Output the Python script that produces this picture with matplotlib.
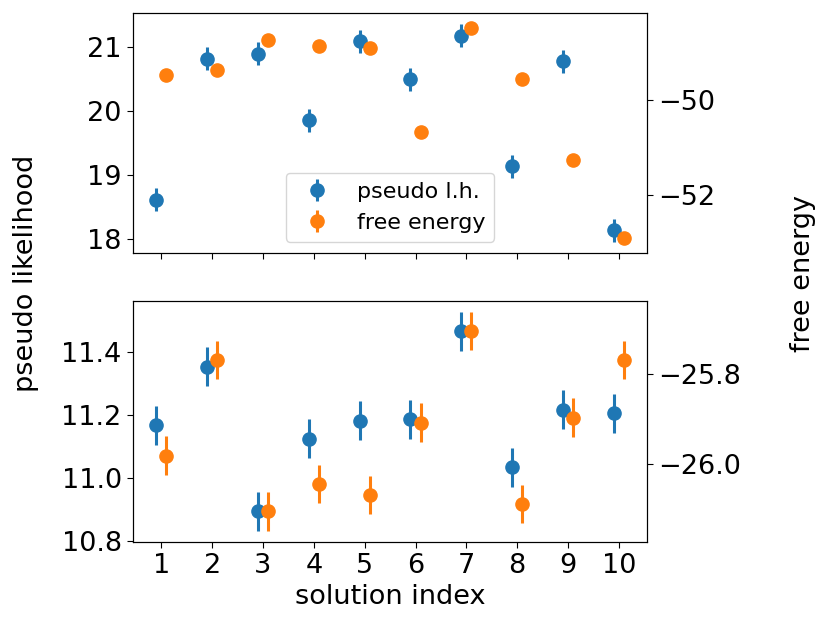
import numpy as np
import matplotlib
matplotlib.use("Agg")
import matplotlib.pyplot as plt

plt.rcParams['font.size'] = 19.5
plt.rcParams['xtick.major.size'] = 4.5
plt.rcParams['ytick.major.size'] = 4.5

idx = np.arange(1, 11)

# top panel
pl_top = [18.62, 20.82, 20.90, 19.86, 21.09, 20.50, 21.18, 19.14, 20.78, 18.14]
pl_top_err = [0.18, 0.18, 0.18, 0.18, 0.18, 0.18, 0.18, 0.18, 0.18, 0.18]
fe_top = [-49.48, -49.38, -48.74, -48.86, -48.92, -50.67, -48.49, -49.57, -51.26, -52.90]
fe_top_err = [0.08, 0.08, 0.08, 0.08, 0.08, 0.08, 0.08, 0.08, 0.08, 0.08]

# bottom panel
pl_bot = [11.168, 11.354, 10.894, 11.124, 11.181, 11.187, 11.466, 11.034, 11.216, 11.206]
pl_bot_err = [0.062, 0.062, 0.062, 0.062, 0.062, 0.062, 0.062, 0.062, 0.062, 0.062]
fe_bot = [-25.982, -25.768, -26.107, -26.046, -26.070, -25.908, -25.703, -26.090, -25.897, -25.768]
fe_bot_err = [0.043, 0.043, 0.043, 0.043, 0.043, 0.043, 0.043, 0.043, 0.043, 0.043]

fig = plt.figure(figsize=(8.3, 6.32), dpi=100)
ax1 = fig.add_axes([0.160, 0.600, 0.620, 0.379])
ax2 = fig.add_axes([0.160, 0.143, 0.620, 0.381], sharex=ax1)
ax1b = ax1.twinx()
ax2b = ax2.twinx()

kw = dict(fmt='o', markersize=9.5, elinewidth=2.2)
h1 = ax1.errorbar(idx - 0.1, pl_top, yerr=pl_top_err, color='C0', **kw)
h2 = ax1b.errorbar(idx + 0.1, fe_top, yerr=fe_top_err, color='C1', **kw)
ax2.errorbar(idx - 0.1, pl_bot, yerr=pl_bot_err, color='C0', **kw)
ax2b.errorbar(idx + 0.1, fe_bot, yerr=fe_bot_err, color='C1', **kw)

ax1b.legend([h1, h2], ['pseudo l.h.', 'free energy'], loc='lower center',
            fontsize=16)

ax1.set_xticks(idx)
plt.setp(ax1.get_xticklabels(), visible=False)
ax2.set_xlabel('solution index')

ax1.set_yticks([18, 19, 20, 21])
ax1b.set_yticks([-52, -50])
ax2.set_yticks([10.8, 11.0, 11.2, 11.4])
ax2b.set_yticks([-26.0, -25.8])

fig.text(0.031, 0.568, 'pseudo likelihood', rotation=90, ha='center', va='center')
fig.text(0.967, 0.568, 'free energy', rotation=90, ha='center', va='center')

fig.savefig('out.png', dpi=100)
